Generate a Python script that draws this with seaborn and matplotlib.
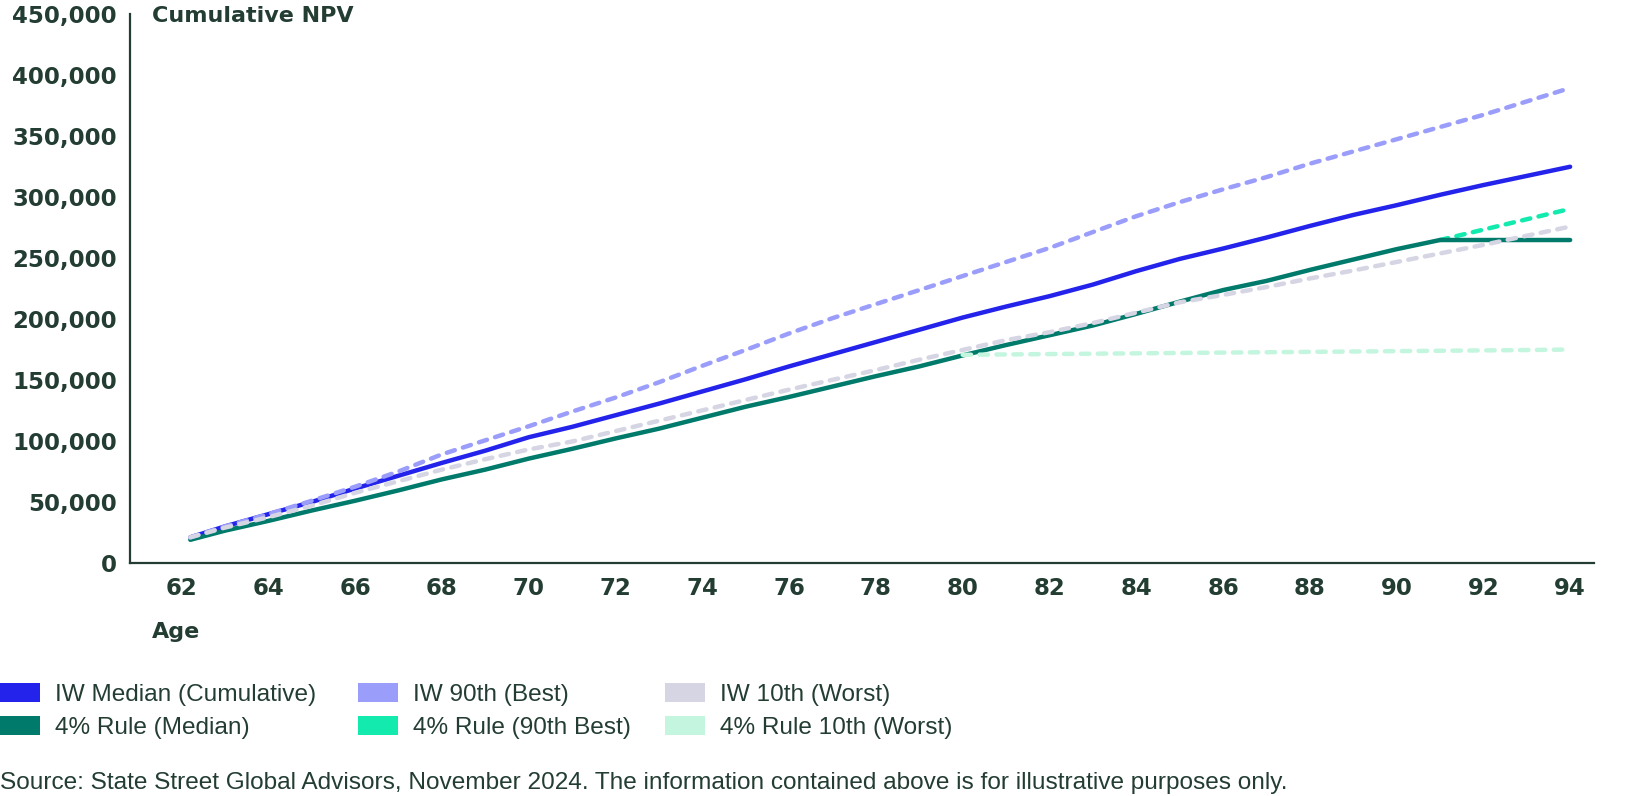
import numpy as np
import pandas as pd
import matplotlib
matplotlib.use("Agg")
import matplotlib.pyplot as plt
from matplotlib.patches import Patch
from matplotlib.ticker import FuncFormatter
import seaborn as sns

# ---------------- data ----------------
AGES = [62.2] + list(range(63, 95))

IW_MEDIAN = [21000, 30000, 40000, 50000, 61000, 71500, 82000, 92000, 103000, 111500,
             121000, 130500, 140500, 150500, 161000, 171000, 181000, 191000, 201000, 210000,
             218500, 228000, 239000, 249000, 257500, 266500, 276000, 285000, 293000, 301500,
             309500, 317000, 324500]

IW_90TH = [21000, 30000, 40000, 51000, 62500, 75000, 89000, 100500, 112000, 124000,
           135500, 148000, 161500, 174500, 188000, 200500, 212000, 223500, 235000, 246500,
           258000, 271000, 284000, 295500, 306000, 316000, 327000, 337000, 347000, 357000,
           367000, 378000, 389000]

IW_10TH = [21000, 29000, 37500, 47000, 57500, 67000, 76500, 85000, 93000, 99500,
           108000, 116500, 125000, 133500, 142000, 150000, 158000, 166500, 174500, 182500,
           189000, 196500, 205000, 213500, 219500, 226000, 233000, 239500, 246500, 253500,
           260500, 268000, 275500]

RULE4_MEDIAN = [19000, 26500, 34500, 43000, 51000, 59500, 68500, 76500, 85500, 93500,
                102000, 110000, 119000, 128000, 136000, 144500, 153000, 161000, 170000, 178500,
                186500, 194500, 204000, 214000, 223500, 231000, 240000, 248500, 257000, 264500,
                264500, 264500, 264500]

nan = np.nan
RULE4_90TH = [nan] * 29 + [264500, 273000, 281500, 290000]

RULE4_10TH = [nan] * 18 + [170500, 170800, 171100, 171400, 171700, 172000, 172300, 172600,
                           172900, 173200, 173500, 173800, 174100, 174400, 174800]

LABELS = ["IW Median (Cumulative)", "IW 90th (Best)", "IW 10th (Worst)",
          "4% Rule (Median)", "4% Rule (90th Best)", "4% Rule 10th (Worst)"]

Y_TICKS = list(range(0, 450001, 50000))
X_TICKS = list(range(62, 95, 2))

# ---------------- style ----------------
sns.set_theme(style="white")
plt.rcParams["font.family"] = ["DejaVu Sans"]

TXT = "#233D32"
C_BLUE = "#2323EB"
C_PURPLE = "#9B9DFB"
C_GREY = "#D6D5E4"
C_GREEN = "#007A6B"
C_TEAL = "#12EAAE"
C_LGREEN = "#C4F6DF"

W, H = 1626, 796
fig = plt.figure(figsize=(W / 100, H / 100), dpi=100)
ax = fig.add_axes([130 / W, 1 - 563 / H, (1594 - 130) / W, (563 - 13.5) / H])

df = pd.DataFrame({
    "age": AGES,
    "iw_med": IW_MEDIAN, "iw_90": IW_90TH, "iw_10": IW_10TH,
    "r_med": RULE4_MEDIAN, "r_90": RULE4_90TH, "r_10": RULE4_10TH,
})

lw = 3.2
dash = (0, (1.9, 1.9))
common = dict(ax=ax, linewidth=lw, legend=False, estimator=None)

sns.lineplot(data=df, x="age", y="r_90", color=C_TEAL, linestyle=dash,
             dash_capstyle="round", **common)
sns.lineplot(data=df, x="age", y="iw_med", color=C_BLUE, solid_capstyle="round", **common)
sns.lineplot(data=df, x="age", y="r_med", color=C_GREEN, solid_capstyle="round", **common)
sns.lineplot(data=df, x="age", y="iw_90", color=C_PURPLE, linestyle=dash,
             dash_capstyle="round", **common)
sns.lineplot(data=df, x="age", y="iw_10", color=C_GREY, linestyle=dash,
             dash_capstyle="round", **common)
sns.lineplot(data=df, x="age", y="r_10", color=C_LGREEN, linestyle=dash,
             dash_capstyle="round", **common)

# ---------------- axes ----------------
ax.set_xlim(60.81, 94.55)
ax.set_ylim(0, 450000)
ax.set_xticks(X_TICKS)
ax.set_yticks(Y_TICKS)
ax.yaxis.set_major_formatter(FuncFormatter(lambda v, p: f"{int(v):,}"))
ax.set_xlabel("")
ax.set_ylabel("")
ax.grid(False)
for s in ["top", "right"]:
    ax.spines[s].set_visible(False)
for s in ["left", "bottom"]:
    ax.spines[s].set_color(TXT)
    ax.spines[s].set_linewidth(1.6)
ax.tick_params(axis="both", direction="in", length=5.5, width=1.3, color=TXT,
               labelcolor=TXT, labelsize=16.5)
ax.tick_params(axis="y", pad=9.5)
ax.tick_params(axis="x", pad=10)
for lab in ax.get_xticklabels() + ax.get_yticklabels():
    lab.set_fontweight("bold")

fig.text(152 / W, 1 - 16 / H, "Cumulative NPV", fontsize=16, fontweight="bold",
         color=TXT, ha="left", va="center")
fig.text(152 / W, 1 - 632 / H, "Age", fontsize=16, fontweight="bold",
         color=TXT, ha="left", va="center")

# ---------------- legend ----------------
FS = 17.6
leg_font = {"family": ["Liberation Sans", "DejaVu Sans"], "size": FS}
fs_px = FS * 100 / 72
cols = [
    (0, [(LABELS[0], C_BLUE), (LABELS[3], C_GREEN)]),
    (358, [(LABELS[1], C_PURPLE), (LABELS[4], C_TEAL)]),
    (665, [(LABELS[2], C_GREY), (LABELS[5], C_LGREEN)]),
]
for x0, items in cols:
    handles = [Patch(facecolor=c, edgecolor="none") for _, c in items]
    labels = [l for l, _ in items]
    lg = fig.legend(handles, labels, loc="upper left",
                    bbox_to_anchor=(x0 / W, 1 - 683 / H),
                    frameon=False, prop=leg_font, borderpad=0, borderaxespad=0,
                    handlelength=40 / fs_px, handleheight=20 / fs_px,
                    handletextpad=15 / fs_px, labelspacing=0.4)
    for t in lg.get_texts():
        t.set_color(TXT)

fig.text(0, 1 - 783 / H,
         "Source: State Street Global Advisors, November 2024. The information contained above is for illustrative purposes only.",
         fontsize=FS, family=["Liberation Sans", "DejaVu Sans"], color=TXT,
         ha="left", va="center")

fig.savefig("out.png", dpi=100)
